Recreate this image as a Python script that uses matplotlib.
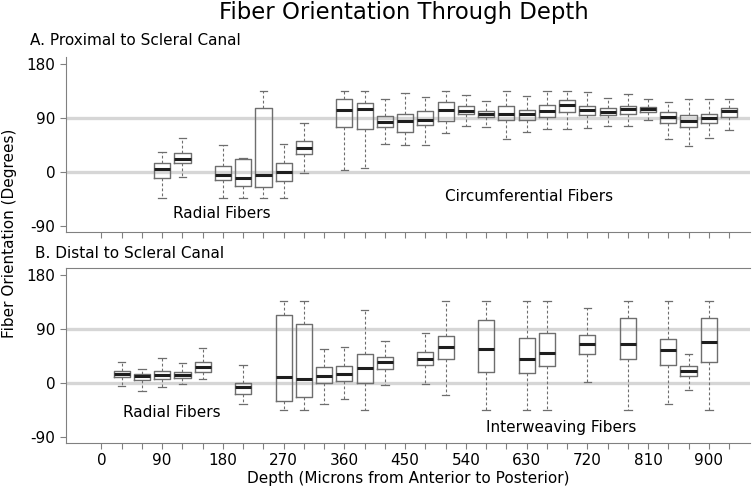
import matplotlib
matplotlib.use('Agg')
import matplotlib.pyplot as plt

# Panel A : proximal to scleral canal
pos_a = [90, 120, 180, 210, 240, 270, 300, 360, 390, 420, 450, 480, 510, 540,
         570, 600, 630, 660, 690, 720, 750, 780, 810, 840, 870, 900, 930]
lo_a = [-43, -8, -43, -43, -43, -43, -1, 4, 7, 48, 46, 46, 65, 77,
        76, 55, 68, 73, 72, 74, 78, 78, 87, 55, 44, 57, 71]
q1_a = [-10, 16, -13, -22, -25, -14, 31, 75, 72, 75, 68, 79, 86, 97,
        92, 88, 88, 92, 101, 95, 95, 97, 101, 82, 75, 82, 92]
med_a = [6, 23, -4, -10, -4, 1, 40, 104, 105, 84, 86, 87, 104, 102,
         97, 97, 97, 103, 112, 104, 101, 105, 105, 93, 86, 91, 103]
q3_a = [15, 33, 11, 22, 108, 15, 52, 123, 115, 94, 98, 103, 117, 111,
        103, 111, 104, 113, 121, 111, 107, 111, 109, 100, 95, 98, 107]
hi_a = [34, 58, 45, 24, 136, 47, 83, 136, 136, 122, 133, 126, 136, 129,
        119, 136, 127, 136, 136, 134, 124, 131, 122, 117, 123, 123, 122]

# Panel B : distal to scleral canal
pos_b = [30, 60, 90, 120, 150, 210, 270, 300, 330, 360, 390, 420,
         480, 510, 570, 630, 660, 720, 780, 840, 870, 900]
lo_b = [-5, -14, -8, -3, 6, -36, -46, -46, -36, -28, -46, -4,
        -3, -20, -46, -46, -46, 1, -46, -36, -13, -46]
q1_b = [9, 5, 6, 7, 17, -19, -30, -24, 0, 3, -1, 23,
        29, 39, 17, 16, 27, 48, 40, 30, 11, 35]
med_b = [14, 11, 13, 13, 26, -7, 10, 6, 11, 14, 24, 34,
         40, 59, 56, 40, 50, 65, 64, 55, 20, 67]
q3_b = [20, 15, 20, 17, 34, 0, 112, 97, 26, 27, 48, 42,
        51, 78, 104, 74, 83, 79, 107, 73, 27, 108]
hi_b = [35, 23, 41, 32, 58, 29, 136, 136, 56, 60, 121, 70,
        82, 136, 136, 136, 136, 125, 136, 136, 48, 136]

xticks = list(range(0, 931, 30))
xlabels = [str(t) if t % 90 == 0 else '' for t in xticks]
yticks = [-90, 0, 90, 180]

fig = plt.figure(figsize=(7.54, 4.88), dpi=100)
ax_a = fig.add_axes([0.0871, 0.5252, 0.9076, 0.3586])
ax_b = fig.add_axes([0.0871, 0.0928, 0.9076, 0.3570])

grey = '#808080'


def draw_panel(ax, pos, lo, q1, med, q3, hi, ylim):
    stats = []
    for i in range(len(pos)):
        stats.append(dict(whislo=lo[i], q1=q1[i], med=med[i], q3=q3[i], whishi=hi[i], fliers=[]))
    # lignes de référence à 0 et 90 degrés
    for y in [0, 90]:
        ax.axhline(y, color='#d6d6d6', lw=2.4, zorder=0)
    ax.bxp(stats, positions=pos, widths=24, showfliers=False, patch_artist=False,
           boxprops=dict(color='#6e6e6e', lw=1.0),
           medianprops=dict(color='#1e1e1e', lw=2.2),
           whiskerprops=dict(color='#6e6e6e', lw=0.8, linestyle=(0, (2.5, 2))),
           capprops=dict(color='#6e6e6e', lw=0.9), capwidths=11)
    ax.set_xlim(-53, 961)
    ax.set_ylim(*ylim)
    ax.set_xticks(xticks)
    ax.set_yticks(yticks)
    ax.set_yticklabels([str(t) for t in yticks])
    ax.tick_params(colors=grey, labelcolor='black', labelsize=11, length=4, width=0.8)
    ax.spines['right'].set_visible(False)
    for s in ['left', 'bottom', 'top']:
        ax.spines[s].set_color(grey)


draw_panel(ax_a, pos_a, lo_a, q1_a, med_a, q3_a, hi_a, (-99, 193))
ax_a.spines['top'].set_visible(False)
ax_a.set_xticklabels([''] * len(xticks))
ax_a.text(178, -68, 'Radial Fibers', ha='center', va='center', fontsize=11)
ax_a.text(634, -40, 'Circumferential Fibers', ha='center', va='center', fontsize=11)

draw_panel(ax_b, pos_b, lo_b, q1_b, med_b, q3_b, hi_b, (-100, 190))
ax_b.set_xticklabels(xlabels)
ax_b.text(104, -50, 'Radial Fibers', ha='center', va='center', fontsize=11)
ax_b.text(681, -75, 'Interweaving Fibers', ha='center', va='center', fontsize=11)
ax_b.set_xlabel('Depth (Microns from Anterior to Posterior)', fontsize=11, labelpad=2)

fig.text(0.536, 0.974, 'Fiber Orientation Through Depth', ha='center', va='center', fontsize=16.4)
fig.text(0.040, 0.918, 'A. Proximal to Scleral Canal', ha='left', va='center', fontsize=11)
fig.text(0.046, 0.481, 'B. Distal to Scleral Canal', ha='left', va='center', fontsize=11)
fig.text(0.013, 0.522, 'Fiber Orientation (Degrees)', rotation=90, ha='center', va='center', fontsize=11)

plt.savefig('out.png', dpi=100)
